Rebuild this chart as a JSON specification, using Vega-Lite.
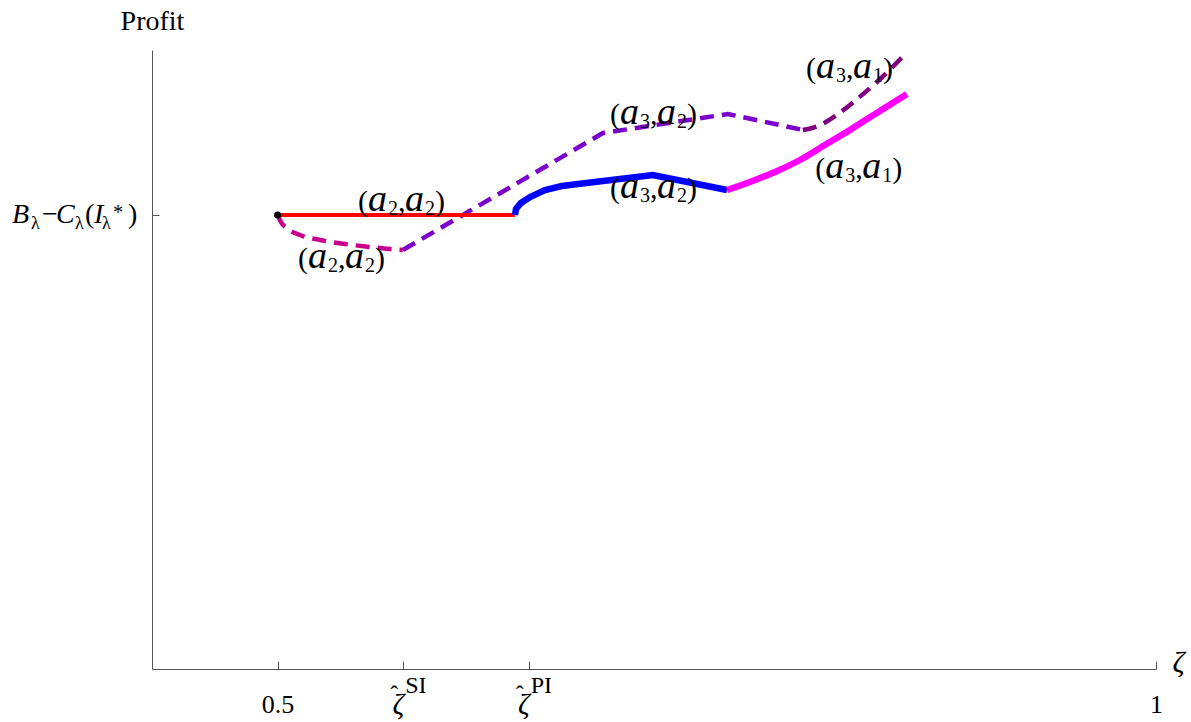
{
  "$schema": "https://vega.github.io/schema/vega-lite/v6.json",
  "width": 1004,
  "height": 619,
  "autosize": {"type": "none"},
  "padding": {"left": 152, "top": 50, "right": 35, "bottom": 53},
  "background": "white",
  "config": {"view": {"stroke": null}, "font": "Liberation Serif"},
  "datasets": {
    "curves": [
      {"seg": "red", "o": 1, "x": 0.5, "y": 0.7334},
      {"seg": "red", "o": 2, "x": 0.6351, "y": 0.7334},
      {"seg": "dmag", "o": 1, "x": 0.5, "y": 0.7334},
      {"seg": "dmag", "o": 2, "x": 0.5019, "y": 0.7221},
      {"seg": "dmag", "o": 3, "x": 0.5059, "y": 0.7108},
      {"seg": "dmag", "o": 4, "x": 0.5127, "y": 0.7011},
      {"seg": "dmag", "o": 5, "x": 0.5241, "y": 0.6931},
      {"seg": "dmag", "o": 6, "x": 0.5383, "y": 0.6866},
      {"seg": "dmag", "o": 7, "x": 0.5525, "y": 0.6818},
      {"seg": "dmag", "o": 8, "x": 0.5639, "y": 0.6785},
      {"seg": "dmag", "o": 9, "x": 0.5713, "y": 0.6769},
      {"seg": "dpur", "o": 1, "x": 0.5713, "y": 0.6769},
      {"seg": "dpur", "o": 2, "x": 0.6852, "y": 0.8659},
      {"seg": "dpur", "o": 3, "x": 0.7563, "y": 0.8966},
      {"seg": "dpur", "o": 4, "x": 0.799, "y": 0.8708},
      {"seg": "dvio", "o": 1, "x": 0.799, "y": 0.8708},
      {"seg": "dvio", "o": 2, "x": 0.8043, "y": 0.874},
      {"seg": "dvio", "o": 3, "x": 0.81, "y": 0.8805},
      {"seg": "dvio", "o": 4, "x": 0.8174, "y": 0.8934},
      {"seg": "dvio", "o": 5, "x": 0.8299, "y": 0.9208},
      {"seg": "dvio", "o": 6, "x": 0.843, "y": 0.9532},
      {"seg": "dvio", "o": 7, "x": 0.8584, "y": 0.9968},
      {"seg": "blue", "o": 1, "x": 0.6351, "y": 0.7334},
      {"seg": "blue", "o": 2, "x": 0.6357, "y": 0.7431},
      {"seg": "blue", "o": 3, "x": 0.6385, "y": 0.7528},
      {"seg": "blue", "o": 4, "x": 0.6437, "y": 0.7625},
      {"seg": "blue", "o": 5, "x": 0.6522, "y": 0.7738},
      {"seg": "blue", "o": 6, "x": 0.6618, "y": 0.7803},
      {"seg": "blue", "o": 7, "x": 0.671, "y": 0.7835},
      {"seg": "blue", "o": 8, "x": 0.7136, "y": 0.7981},
      {"seg": "blue", "o": 9, "x": 0.7558, "y": 0.7738},
      {"seg": "mag", "o": 1, "x": 0.7558, "y": 0.7738},
      {"seg": "mag", "o": 2, "x": 0.7689, "y": 0.7868},
      {"seg": "mag", "o": 3, "x": 0.7831, "y": 0.8029},
      {"seg": "mag", "o": 4, "x": 0.7973, "y": 0.8223},
      {"seg": "mag", "o": 5, "x": 0.8115, "y": 0.8465},
      {"seg": "mag", "o": 6, "x": 0.8258, "y": 0.8708},
      {"seg": "mag", "o": 7, "x": 0.8428, "y": 0.9015},
      {"seg": "mag", "o": 8, "x": 0.8582, "y": 0.9289}
    ],
    "labels": [
      {"x": 0.5457, "y": 0.7399, "i": "2", "j": "2"},
      {"x": 0.5116, "y": 0.6478, "i": "2", "j": "2"},
      {"x": 0.6892, "y": 0.8805, "i": "3", "j": "2"},
      {"x": 0.6892, "y": 0.7609, "i": "3", "j": "2"},
      {"x": 0.8008, "y": 0.9548, "i": "3", "j": "1"},
      {"x": 0.806, "y": 0.7932, "i": "3", "j": "1"}
    ],
    "zticks": [
      {"x": 0.5715, "y": 0, "sup": "SI"},
      {"x": 0.6429, "y": 0, "sup": "PI"}
    ],
    "ylab": [{"x": 0.4285, "y": 0.7334}],
    "dot": [{"x": 0.5, "y": 0.7334}]
  },
  "layer": [
    {
      "data": {"name": "curves"},
      "transform": [{"filter": "datum.seg == 'dpur'"}],
      "mark": {"type": "line", "strokeWidth": 4.5, "strokeDash": [14, 8], "clip": false},
      "encoding": {
        "x": {"field": "x", "type": "quantitative", "scale": {"domain": [0.4285, 1], "nice": false, "zero": false},
          "axis": {"values": [0.5, 0.5715, 0.6429, 1], "labelExpr": "datum.value == 0.5 ? '0.5' : (datum.value == 1 ? '1' : '')",
            "grid": false, "tickSize": -8, "domainColor": "#555", "tickColor": "#555", "labelFont": "Liberation Serif", "labelFontSize": 26, "labelColor": "black",
            "labelBaseline": "alphabetic", "labelPadding": 51, "labelFlush": false,
            "title": "ζ", "titleFont": "Liberation Serif", "titleFontStyle": "italic", "titleFontWeight": "normal", "titleFontSize": 30, "titleColor": "black",
            "titleX": 1026, "titleY": 2, "titleAlign": "center", "titleBaseline": "alphabetic", "titleAnchor": null}},
        "y": {"field": "y", "type": "quantitative", "scale": {"domain": [0, 1], "nice": false},
          "axis": {"values": [0.7334], "labels": false, "grid": false, "tickSize": -7, "domainColor": "#555", "tickColor": "#555",
            "title": "Profit", "titleFont": "Liberation Serif", "titleFontWeight": "normal", "titleFontSize": 28, "titleColor": "black",
            "titleAngle": 0, "titleX": 0, "titleY": -21, "titleAlign": "center", "titleBaseline": "alphabetic"}},
        "color": {"field": "seg", "type": "nominal", "legend": null,
          "scale": {"domain": ["red", "blue", "mag", "dmag", "dpur", "dvio"], "range": ["#ff0000", "#0000ff", "#ff00ff", "#c8008c", "#7b00cc", "#800080"]}},
        "order": {"field": "o", "type": "quantitative"}
      }
    },
    {
      "data": {"name": "curves"},
      "transform": [{"filter": "datum.seg == 'dmag' || datum.seg == 'dvio'"}],
      "mark": {"type": "line", "strokeWidth": 4.5, "strokeDash": [14, 8], "interpolate": "monotone"},
      "encoding": {
        "x": {"field": "x", "type": "quantitative"},
        "y": {"field": "y", "type": "quantitative"},
        "color": {"field": "seg", "type": "nominal", "legend": null},
        "detail": {"field": "seg"},
        "order": {"field": "o", "type": "quantitative"}
      }
    },
    {
      "data": {"name": "curves"},
      "transform": [{"filter": "datum.seg == 'red'"}],
      "mark": {"type": "line", "strokeWidth": 4},
      "encoding": {
        "x": {"field": "x", "type": "quantitative"},
        "y": {"field": "y", "type": "quantitative"},
        "color": {"field": "seg", "type": "nominal", "legend": null},
        "order": {"field": "o", "type": "quantitative"}
      }
    },
    {
      "data": {"name": "curves"},
      "transform": [{"filter": "datum.seg == 'blue'"}],
      "mark": {"type": "line", "strokeWidth": 6.5},
      "encoding": {
        "x": {"field": "x", "type": "quantitative"},
        "y": {"field": "y", "type": "quantitative"},
        "color": {"field": "seg", "type": "nominal", "legend": null},
        "order": {"field": "o", "type": "quantitative"}
      }
    },
    {
      "data": {"name": "curves"},
      "transform": [{"filter": "datum.seg == 'mag'"}],
      "mark": {"type": "line", "strokeWidth": 6.5, "interpolate": "monotone"},
      "encoding": {
        "x": {"field": "x", "type": "quantitative"},
        "y": {"field": "y", "type": "quantitative"},
        "color": {"field": "seg", "type": "nominal", "legend": null},
        "order": {"field": "o", "type": "quantitative"}
      }
    },
    {
      "data": {"name": "dot"},
      "mark": {"type": "point", "filled": true, "color": "black", "size": 50, "opacity": 1},
      "encoding": {"x": {"field": "x", "type": "quantitative"}, "y": {"field": "y", "type": "quantitative"}}
    },
    {
      "data": {"name": "labels"},
      "mark": {"type": "text", "align": "left", "baseline": "alphabetic", "fontSize": 30, "dx": 0, "color": "black"},
      "encoding": {"x": {"field": "x", "type": "quantitative"}, "y": {"field": "y", "type": "quantitative"}, "text": {"value": "("}}
    },
    {
      "data": {"name": "labels"},
      "mark": {"type": "text", "align": "left", "baseline": "alphabetic", "fontSize": 38, "fontStyle": "italic", "dx": 10, "color": "black"},
      "encoding": {"x": {"field": "x", "type": "quantitative"}, "y": {"field": "y", "type": "quantitative"}, "text": {"value": "a"}}
    },
    {
      "data": {"name": "labels"},
      "mark": {"type": "text", "align": "left", "baseline": "alphabetic", "fontSize": 20, "dx": 30, "dy": 4, "color": "black"},
      "encoding": {"x": {"field": "x", "type": "quantitative"}, "y": {"field": "y", "type": "quantitative"}, "text": {"field": "i"}}
    },
    {
      "data": {"name": "labels"},
      "mark": {"type": "text", "align": "left", "baseline": "alphabetic", "fontSize": 30, "dx": 40, "color": "black"},
      "encoding": {"x": {"field": "x", "type": "quantitative"}, "y": {"field": "y", "type": "quantitative"}, "text": {"value": ","}}
    },
    {
      "data": {"name": "labels"},
      "mark": {"type": "text", "align": "left", "baseline": "alphabetic", "fontSize": 38, "fontStyle": "italic", "dx": 47, "color": "black"},
      "encoding": {"x": {"field": "x", "type": "quantitative"}, "y": {"field": "y", "type": "quantitative"}, "text": {"value": "a"}}
    },
    {
      "data": {"name": "labels"},
      "mark": {"type": "text", "align": "left", "baseline": "alphabetic", "fontSize": 20, "dx": 67, "dy": 4, "color": "black"},
      "encoding": {"x": {"field": "x", "type": "quantitative"}, "y": {"field": "y", "type": "quantitative"}, "text": {"field": "j"}}
    },
    {
      "data": {"name": "labels"},
      "mark": {"type": "text", "align": "left", "baseline": "alphabetic", "fontSize": 30, "dx": 77, "color": "black"},
      "encoding": {"x": {"field": "x", "type": "quantitative"}, "y": {"field": "y", "type": "quantitative"}, "text": {"value": ")"}}
    },
    {
      "data": {"name": "zticks"},
      "mark": {"type": "text", "align": "right", "baseline": "alphabetic", "fontSize": 29, "fontStyle": "italic", "dx": 1, "dy": 45, "color": "black"},
      "encoding": {"x": {"field": "x", "type": "quantitative"}, "y": {"field": "y", "type": "quantitative"}, "text": {"value": "ζ"}}
    },
    {
      "data": {"name": "zticks"},
      "mark": {"type": "text", "align": "center", "baseline": "alphabetic", "fontSize": 24, "dx": -9, "dy": 33, "color": "black"},
      "encoding": {"x": {"field": "x", "type": "quantitative"}, "y": {"field": "y", "type": "quantitative"}, "text": {"value": "ˆ"}}
    },
    {
      "data": {"name": "zticks"},
      "mark": {"type": "text", "align": "left", "baseline": "alphabetic", "fontSize": 24, "dx": 2, "dy": 24, "color": "black"},
      "encoding": {"x": {"field": "x", "type": "quantitative"}, "y": {"field": "y", "type": "quantitative"}, "text": {"field": "sup"}}
    },
    {
      "data": {"name": "ylab"},
      "mark": {"type": "text", "align": "left", "baseline": "alphabetic", "fontSize": 28, "fontStyle": "italic", "dx": -140, "dy": 8, "color": "black"},
      "encoding": {"x": {"field": "x", "type": "quantitative"}, "y": {"field": "y", "type": "quantitative"}, "text": {"value": "B"}}
    },
    {
      "data": {"name": "ylab"},
      "mark": {"type": "text", "align": "left", "baseline": "alphabetic", "fontSize": 18, "dx": -121, "dy": 14, "color": "black"},
      "encoding": {"x": {"field": "x", "type": "quantitative"}, "y": {"field": "y", "type": "quantitative"}, "text": {"value": "λ"}}
    },
    {
      "data": {"name": "ylab"},
      "mark": {"type": "text", "align": "left", "baseline": "alphabetic", "fontSize": 28, "dx": -110, "dy": 8, "color": "black"},
      "encoding": {"x": {"field": "x", "type": "quantitative"}, "y": {"field": "y", "type": "quantitative"}, "text": {"value": "−"}}
    },
    {
      "data": {"name": "ylab"},
      "mark": {"type": "text", "align": "left", "baseline": "alphabetic", "fontSize": 28, "fontStyle": "italic", "dx": -96, "dy": 8, "color": "black"},
      "encoding": {"x": {"field": "x", "type": "quantitative"}, "y": {"field": "y", "type": "quantitative"}, "text": {"value": "C"}}
    },
    {
      "data": {"name": "ylab"},
      "mark": {"type": "text", "align": "left", "baseline": "alphabetic", "fontSize": 18, "dx": -77, "dy": 14, "color": "black"},
      "encoding": {"x": {"field": "x", "type": "quantitative"}, "y": {"field": "y", "type": "quantitative"}, "text": {"value": "λ"}}
    },
    {
      "data": {"name": "ylab"},
      "mark": {"type": "text", "align": "left", "baseline": "alphabetic", "fontSize": 28, "dx": -67, "dy": 8, "color": "black"},
      "encoding": {"x": {"field": "x", "type": "quantitative"}, "y": {"field": "y", "type": "quantitative"}, "text": {"value": "("}}
    },
    {
      "data": {"name": "ylab"},
      "mark": {"type": "text", "align": "left", "baseline": "alphabetic", "fontSize": 28, "fontStyle": "italic", "dx": -58, "dy": 8, "color": "black"},
      "encoding": {"x": {"field": "x", "type": "quantitative"}, "y": {"field": "y", "type": "quantitative"}, "text": {"value": "I"}}
    },
    {
      "data": {"name": "ylab"},
      "mark": {"type": "text", "align": "left", "baseline": "alphabetic", "fontSize": 18, "dx": -50, "dy": 14, "color": "black"},
      "encoding": {"x": {"field": "x", "type": "quantitative"}, "y": {"field": "y", "type": "quantitative"}, "text": {"value": "λ"}}
    },
    {
      "data": {"name": "ylab"},
      "mark": {"type": "text", "align": "left", "baseline": "alphabetic", "fontSize": 20, "dx": -39, "dy": 4, "color": "black"},
      "encoding": {"x": {"field": "x", "type": "quantitative"}, "y": {"field": "y", "type": "quantitative"}, "text": {"value": "*"}}
    },
    {
      "data": {"name": "ylab"},
      "mark": {"type": "text", "align": "left", "baseline": "alphabetic", "fontSize": 28, "dx": -24, "dy": 8, "color": "black"},
      "encoding": {"x": {"field": "x", "type": "quantitative"}, "y": {"field": "y", "type": "quantitative"}, "text": {"value": ")"}}
    }
  ]
}
